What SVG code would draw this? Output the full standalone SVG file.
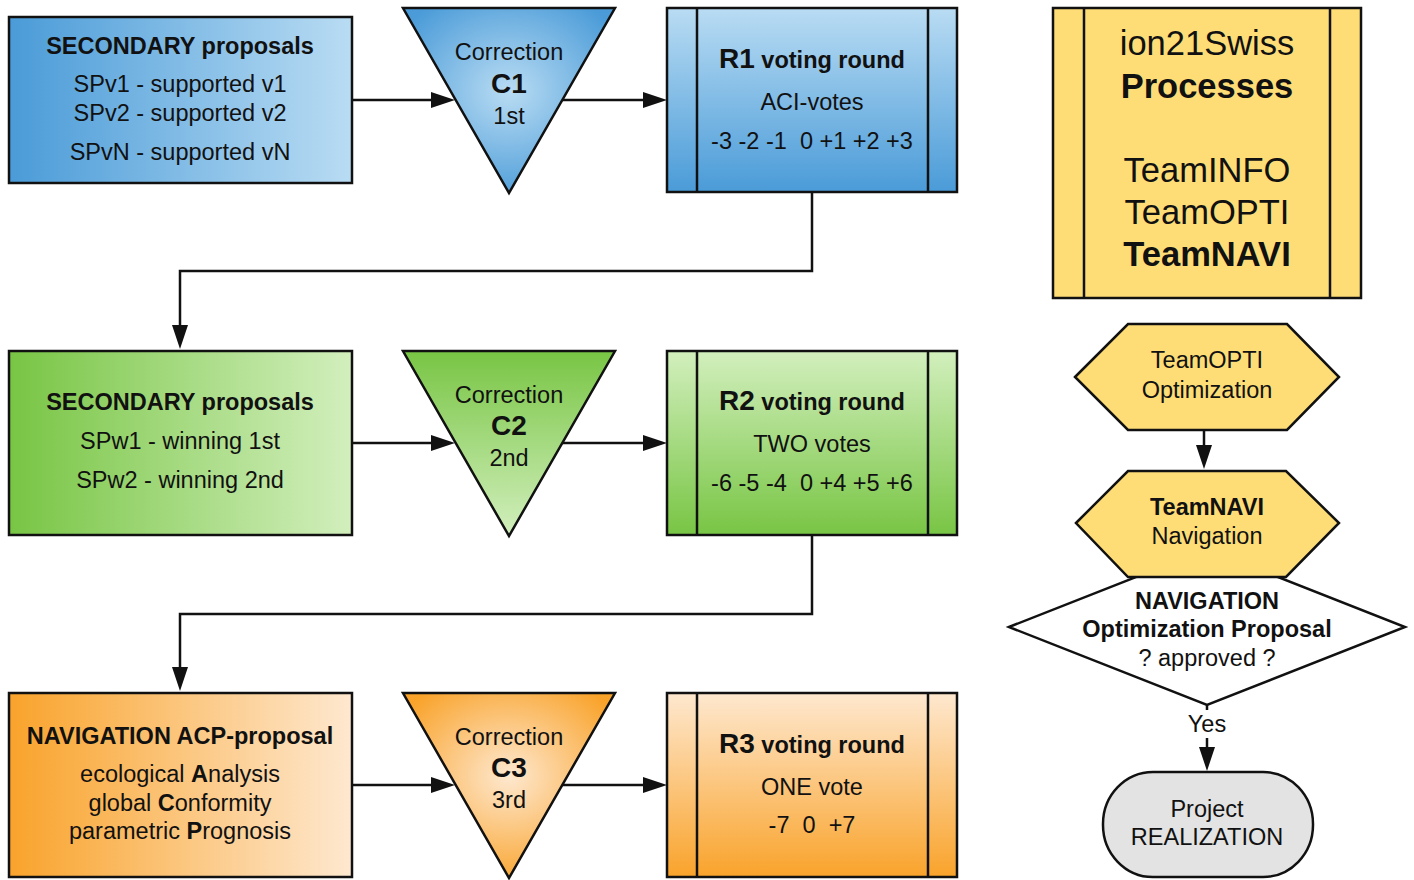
<svg xmlns="http://www.w3.org/2000/svg" width="1414" height="880" viewBox="0 0 1414 880">
  <defs>
    <style>
      text { font-family: "Liberation Sans", Arial, sans-serif; fill: #111; text-anchor: middle; white-space: pre; }
      .t { font-size: 23.5px; }
      .b { font-weight: bold; }
      .big { font-size: 28px; font-weight: bold; }
      .huge { font-size: 34.5px; }
      .shape { stroke: #111; stroke-width: 2.5; stroke-linejoin: miter; }
      .line { stroke: #111; stroke-width: 2.5; fill: none; }
      .conn { stroke: #111; stroke-width: 2.5; fill: none; marker-end: url(#arr); }
    </style>
    <marker id="arr" viewBox="0 0 24 16" refX="14" refY="8" markerWidth="24" markerHeight="16" markerUnits="userSpaceOnUse" orient="auto">
      <path d="M0,0 L24,8 L0,16 z" fill="#111"/>
    </marker>
    <!-- blue family -->
    <linearGradient id="blueH" x1="0" y1="0" x2="1" y2="0">
      <stop offset="0" stop-color="#4a9bd8"/>
      <stop offset="1" stop-color="#b9dcf3"/>
    </linearGradient>
    <linearGradient id="blueV" x1="0" y1="0" x2="0" y2="1">
      <stop offset="0" stop-color="#b9dcf3"/>
      <stop offset="1" stop-color="#4a9bd8"/>
    </linearGradient>
    <radialGradient id="blueR" cx="0.5" cy="0.45" r="0.6">
      <stop offset="0" stop-color="#b9dcf3"/>
      <stop offset="1" stop-color="#4a9bd8"/>
    </radialGradient>
    <!-- green family -->
    <linearGradient id="greenH" x1="0" y1="0" x2="1" y2="0">
      <stop offset="0" stop-color="#78c544"/>
      <stop offset="1" stop-color="#d2efbd"/>
    </linearGradient>
    <linearGradient id="greenV" x1="0" y1="0" x2="0" y2="1">
      <stop offset="0" stop-color="#d2efbd"/>
      <stop offset="1" stop-color="#78c544"/>
    </linearGradient>
    <linearGradient id="greenT" x1="0" y1="0" x2="0" y2="1">
      <stop offset="0" stop-color="#78c544"/>
      <stop offset="1" stop-color="#d2efbd"/>
    </linearGradient>
    <!-- orange family -->
    <linearGradient id="orangeH" x1="0" y1="0" x2="1" y2="0">
      <stop offset="0" stop-color="#f9a32b"/>
      <stop offset="1" stop-color="#fee8cf"/>
    </linearGradient>
    <linearGradient id="orangeV" x1="0" y1="0" x2="0" y2="1">
      <stop offset="0" stop-color="#fee8cf"/>
      <stop offset="1" stop-color="#f9a32b"/>
    </linearGradient>
    <radialGradient id="orangeR" cx="0.5" cy="0.45" r="0.6">
      <stop offset="0" stop-color="#fee8cf"/>
      <stop offset="1" stop-color="#f9a32b"/>
    </radialGradient>
  </defs>

  <rect width="1414" height="880" fill="#fff"/>

  <!-- connectors -->
  <g id="connectors">
    <path class="conn" d="M352,100 H445"/>
    <path class="conn" d="M562,100 H657"/>
    <path class="conn" d="M812,192 V271 H180 V339"/>
    <path class="conn" d="M352,443 H445"/>
    <path class="conn" d="M562,443 H657"/>
    <path class="conn" d="M812,535 V614 H180 V681"/>
    <path class="conn" d="M352,785 H445"/>
    <path class="conn" d="M562,785 H657"/>
    <path class="conn" d="M1204,430 V459"/>
    <path class="conn" d="M1207,705 V761"/>
  </g>

  <!-- row 1 -->
  <g id="sp-v">
    <rect class="shape" x="9" y="17" width="343" height="166" fill="url(#blueH)"/>
    <text class="t b" x="180" y="53.5">SECONDARY proposals</text>
    <text class="t" x="180" y="92">SPv1 - supported v1</text>
    <text class="t" x="180" y="120.5">SPv2 - supported v2</text>
    <text class="t" x="180" y="159.5">SPvN - supported vN</text>
  </g>
  <g id="c1">
    <polygon class="shape" points="403,8 615,8 509,193" fill="url(#blueR)"/>
    <text class="t" x="509" y="59.5">Correction</text>
    <text class="big" x="509" y="93">C1</text>
    <text class="t" x="509" y="123.5">1st</text>
  </g>
  <g id="r1">
    <rect class="shape" x="667" y="8" width="290" height="184" fill="url(#blueV)"/>
    <line class="line" x1="697" y1="8" x2="697" y2="192"/>
    <line class="line" x1="928" y1="8" x2="928" y2="192"/>
    <text class="t b" x="812" y="68"><tspan class="big">R1</tspan> voting round</text>
    <text class="t" x="812" y="109.5">ACI-votes</text>
    <text class="t" x="812" y="148.5">-3 -2 -1  0 +1 +2 +3</text>
  </g>

  <!-- row 2 -->
  <g id="sp-w">
    <rect class="shape" x="9" y="351" width="343" height="184" fill="url(#greenH)"/>
    <text class="t b" x="180" y="409.5">SECONDARY proposals</text>
    <text class="t" x="180" y="448.5">SPw1 - winning 1st</text>
    <text class="t" x="180" y="487.5">SPw2 - winning 2nd</text>
  </g>
  <g id="c2">
    <polygon class="shape" points="403,351 615,351 509,536" fill="url(#greenT)"/>
    <text class="t" x="509" y="402.5">Correction</text>
    <text class="big" x="509" y="435">C2</text>
    <text class="t" x="509" y="465.5">2nd</text>
  </g>
  <g id="r2">
    <rect class="shape" x="667" y="351" width="290" height="184" fill="url(#greenV)"/>
    <line class="line" x1="697" y1="351" x2="697" y2="535"/>
    <line class="line" x1="928" y1="351" x2="928" y2="535"/>
    <text class="t b" x="812" y="410"><tspan class="big">R2</tspan> voting round</text>
    <text class="t" x="812" y="451.5">TWO votes</text>
    <text class="t" x="812" y="490.5">-6 -5 -4  0 +4 +5 +6</text>
  </g>

  <!-- row 3 -->
  <g id="acp">
    <rect class="shape" x="9" y="693" width="343" height="184" fill="url(#orangeH)"/>
    <text class="t b" x="180" y="743.5">NAVIGATION ACP-proposal</text>
    <text class="t" x="180" y="781.5">ecological <tspan class="b">A</tspan>nalysis</text>
    <text class="t" x="180" y="810.5">global <tspan class="b">C</tspan>onformity</text>
    <text class="t" x="180" y="838.5">parametric <tspan class="b">P</tspan>rognosis</text>
  </g>
  <g id="c3">
    <polygon class="shape" points="403,693 615,693 509,878" fill="url(#orangeR)"/>
    <text class="t" x="509" y="744.5">Correction</text>
    <text class="big" x="509" y="777">C3</text>
    <text class="t" x="509" y="807.5">3rd</text>
  </g>
  <g id="r3">
    <rect class="shape" x="667" y="693" width="290" height="184" fill="url(#orangeV)"/>
    <line class="line" x1="697" y1="693" x2="697" y2="877"/>
    <line class="line" x1="928" y1="693" x2="928" y2="877"/>
    <text class="t b" x="812" y="753"><tspan class="big">R3</tspan> voting round</text>
    <text class="t" x="812" y="794.5">ONE vote</text>
    <text class="t" x="812" y="832.5">-7  0  +7</text>
  </g>

  <!-- right column -->
  <g id="processes">
    <rect class="shape" x="1053" y="8" width="308" height="290" fill="#fedd77"/>
    <line class="line" x1="1084" y1="8" x2="1084" y2="298"/>
    <line class="line" x1="1330" y1="8" x2="1330" y2="298"/>
    <text class="huge" x="1207" y="55">ion21Swiss</text>
    <text class="huge b" x="1207" y="98">Processes</text>
    <text class="huge" x="1207" y="182">TeamINFO</text>
    <text class="huge" x="1207" y="224">TeamOPTI</text>
    <text class="huge b" x="1207" y="266">TeamNAVI</text>
  </g>
  <g id="teamopti">
    <polygon class="shape" points="1075,377 1128,324 1287,324 1339,377 1287,430 1128,430" fill="#fedd77"/>
    <text class="t" x="1207" y="367.5">TeamOPTI</text>
    <text class="t" x="1207" y="397.5">Optimization</text>
  </g>
  <g id="decision">
    <polygon class="shape" points="1009,627 1207,549 1405,627 1207,705" fill="#fff"/>
    <text class="t b" x="1207" y="608.5">NAVIGATION</text>
    <text class="t b" x="1207" y="636.5">Optimization Proposal</text>
    <text class="t" x="1207" y="665.5">? approved ?</text>
  </g>
  <g id="teamnavi">
    <polygon class="shape" points="1076,523 1128,471 1286,471 1339,523 1286,577 1128,577" fill="#fedd77"/>
    <text class="t b" x="1207" y="514.5">TeamNAVI</text>
    <text class="t" x="1207" y="543.5">Navigation</text>
  </g>
  <g id="yes-label">
    <rect x="1188" y="710" width="38" height="28" fill="#fff"/>
    <text class="t" x="1207" y="731.5">Yes</text>
  </g>
  <g id="realization">
    <rect class="shape" x="1103" y="772" width="210" height="105" rx="50" ry="52" fill="#e3e3e3"/>
    <text class="t" x="1207" y="816.5">Project</text>
    <text class="t" x="1207" y="844.5">REALIZATION</text>
  </g>
</svg>
